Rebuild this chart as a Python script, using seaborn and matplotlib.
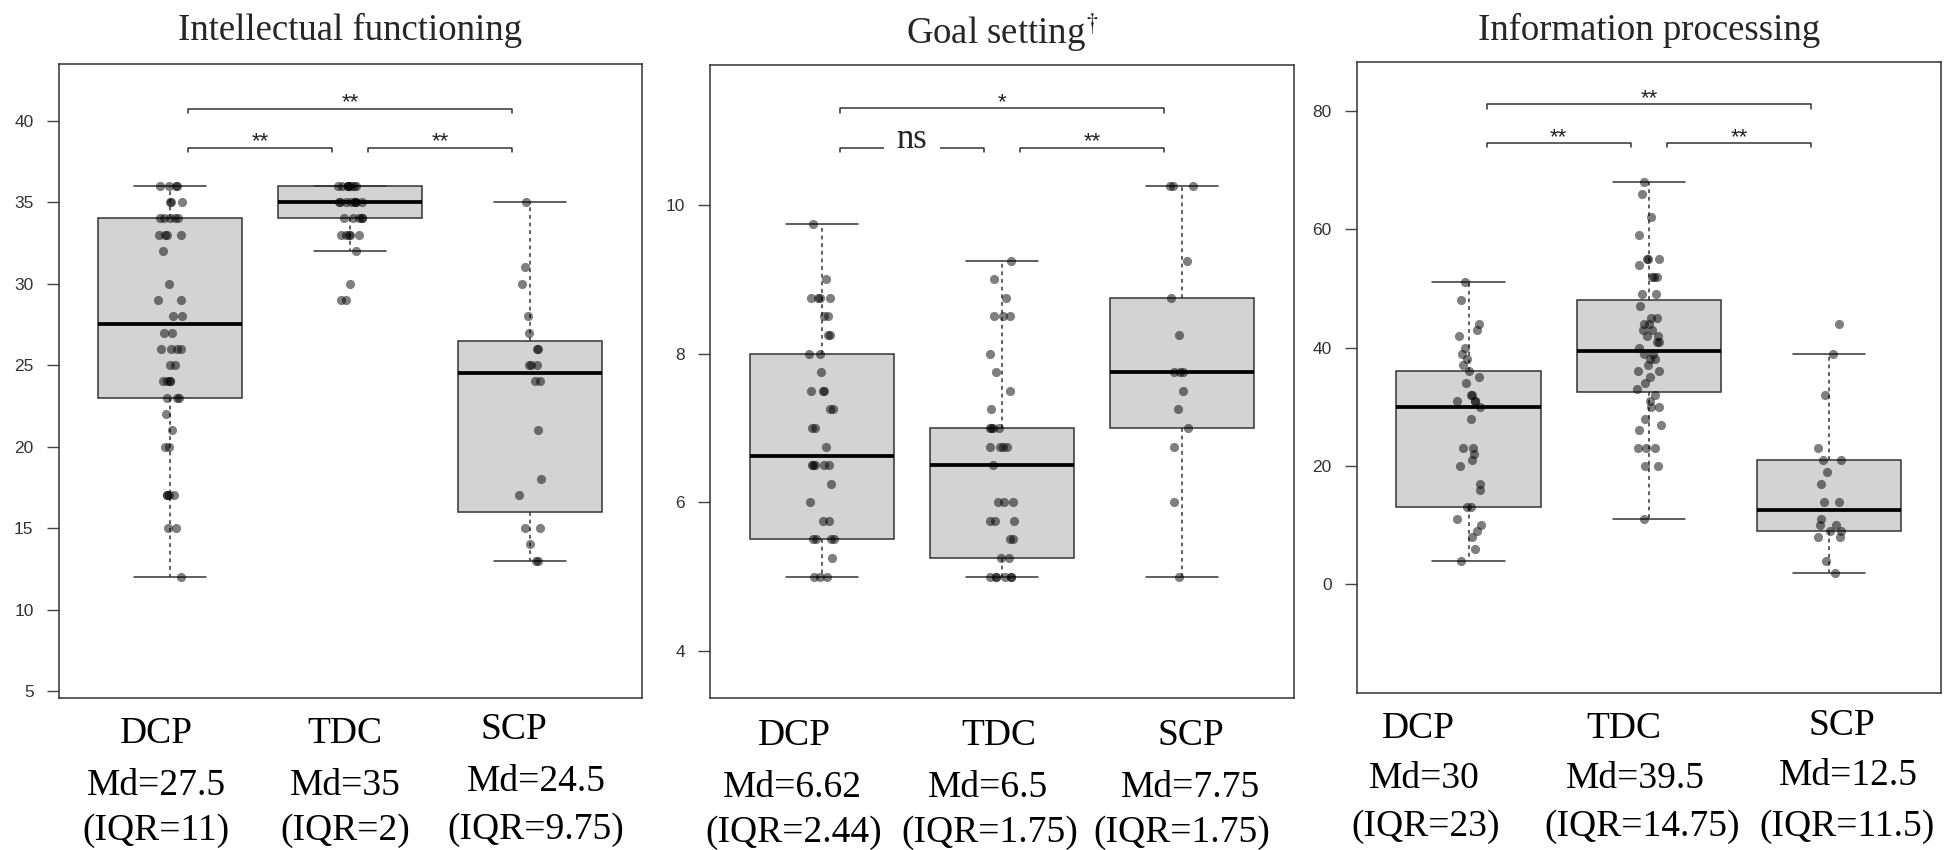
import numpy as np
import pandas as pd
import matplotlib
matplotlib.use("Agg")
import matplotlib.pyplot as plt
import seaborn as sns

# ---------------- data ----------------
groups = ["DCP", "TDC", "SCP"]
titles = ["Intellectual functioning", r"Goal setting$^{\dagger}$", "Information processing"]

# Intellectual functioning: individual scores
if_dcp = [36, 36, 36, 36, 35, 35, 35, 34, 34, 34, 34, 34, 33, 33, 33, 33, 32, 30, 29, 29,
          28, 28, 27, 27, 26, 26, 26, 26, 25, 25, 24, 24, 24, 24, 23, 23, 23, 22, 21, 20,
          20, 17, 17, 17, 17, 15, 15, 12]
if_tdc = [36, 36, 36, 36, 36, 36, 36, 36, 35, 35, 35, 35, 35, 35, 35, 35, 34, 34, 34, 34,
          34, 33, 33, 33, 33, 33, 32, 30, 29, 29]
if_scp = [35, 31, 30, 28, 27, 26, 26, 25, 25, 25, 24, 24, 21, 18, 17, 15, 15, 14, 13, 13]
if_whislo = [12, 32, 13]
if_q1 = [23, 34, 16]
if_med = [27.5, 35, 24.5]
if_q3 = [34, 36, 26.5]
if_whishi = [36, 36, 35]
if_md_lbl = ["27.5", "35", "24.5"]
if_iqr_lbl = ["11", "2", "9.75"]
if_sig = ["**", "**", "**"]          # DCP-TDC, TDC-SCP, DCP-SCP
if_yticks = [5, 10, 15, 20, 25, 30, 35, 40]

# Goal setting
gs_dcp = [9.75, 9.0, 8.75, 8.75, 8.75, 8.75, 8.5, 8.5, 8.25, 8.25, 8.0, 8.0, 7.75, 7.5, 7.5,
          7.5, 7.25, 7.25, 7.0, 7.0, 6.75, 6.5, 6.5, 6.5, 6.5, 6.5, 6.25, 6.0, 5.75, 5.75,
          5.5, 5.5, 5.5, 5.5, 5.25, 5.0, 5.0, 5.0]
gs_tdc = [9.25, 9.0, 8.75, 8.5, 8.5, 8.5, 8.0, 7.75, 7.5, 7.25, 7.0, 7.0, 7.0, 7.0, 6.75,
          6.75, 6.75, 6.75, 6.5, 6.0, 6.0, 6.0, 5.75, 5.75, 5.75, 5.5, 5.5, 5.25, 5.25,
          5.0, 5.0, 5.0, 5.0, 5.0, 5.0]
gs_scp = [10.25, 10.25, 10.25, 9.25, 8.75, 8.25, 7.75, 7.75, 7.75, 7.5, 7.25, 7.0, 6.75, 6.0, 5.0]
gs_whislo = [5, 5, 5]
gs_q1 = [5.5, 5.25, 7.0]
gs_med = [6.62, 6.5, 7.75]
gs_q3 = [8.0, 7.0, 8.75]
gs_whishi = [9.75, 9.25, 10.25]
gs_md_lbl = ["6.62", "6.5", "7.75"]
gs_iqr_lbl = ["2.44", "1.75", "1.75"]
gs_sig = ["ns", "**", "*"]
gs_yticks = [4, 6, 8, 10]

# Information processing
ip_dcp = [51, 48, 44, 43, 42, 40, 39, 38, 37, 36, 35, 34, 32, 32, 31, 31, 31, 30, 28, 23,
          23, 22, 21, 20, 17, 16, 13, 13, 11, 10, 9, 8, 6, 4]
ip_tdc = [68, 66, 62, 59, 55, 55, 55, 54, 52, 52, 52, 49, 49, 47, 45, 45, 44, 44, 43, 43,
          42, 42, 41, 41, 40, 39, 39, 38, 38, 37, 36, 36, 35, 34, 33, 32, 31, 30, 30, 28,
          27, 26, 23, 23, 23, 20, 20, 11]
ip_scp = [44, 39, 32, 23, 21, 21, 19, 17, 14, 14, 11, 10, 10, 9, 9, 8, 8, 4, 2]
ip_whislo = [4, 11, 2]
ip_q1 = [13, 32.5, 9]
ip_med = [30, 39.5, 12.5]
ip_q3 = [36, 48, 21]
ip_whishi = [51, 68, 39]
ip_md_lbl = ["30", "39.5", "12.5"]
ip_iqr_lbl = ["23", "14.75", "11.5"]
ip_sig = ["**", "**", "**"]
ip_yticks = [0, 20, 40, 60, 80]

panels = [
    dict(title=titles[0], pts=[if_dcp, if_tdc, if_scp],
         stats=(if_whislo, if_q1, if_med, if_q3, if_whishi),
         md=if_md_lbl, iqr=if_iqr_lbl, sig=if_sig, yticks=if_yticks),
    dict(title=titles[1], pts=[gs_dcp, gs_tdc, gs_scp],
         stats=(gs_whislo, gs_q1, gs_med, gs_q3, gs_whishi),
         md=gs_md_lbl, iqr=gs_iqr_lbl, sig=gs_sig, yticks=gs_yticks),
    dict(title=titles[2], pts=[ip_dcp, ip_tdc, ip_scp],
         stats=(ip_whislo, ip_q1, ip_med, ip_q3, ip_whishi),
         md=ip_md_lbl, iqr=ip_iqr_lbl, sig=ip_sig, yticks=ip_yticks),
]

# ---------------- layout (pixels of a 1948x850 canvas) ----------------
W, H = 1948, 850
AX_PX = [(58.7, 64.0, 642.0, 698.3), (710.0, 65.3, 1294.0, 697.7), (1356.7, 61.7, 1941.0, 693.3)]
YLIMS = [(4.55, 43.48), (3.37, 11.88), (-18.4, 88.3)]
BRACKET_Y = [(38.35, 40.73), (10.77, 11.30), (74.5, 81.07)]   # lower pair, upper
TITLE_PAD = [17.0, 15.6, 15.3]
# label centres (x px for the three rows) and baselines (y px for three rows)
LBL_X = [[(156, 156, 156), (345, 345, 345), (514, 536, 536)],
         [(794, 792, 794), (999, 988, 990), (1191, 1191, 1182)],
         [(1418, 1424, 1426), (1624, 1635, 1642), (1842, 1848, 1847)]]
LBL_Y = [[(743, 795, 840), (743, 795, 840), (739, 791, 839)],
         [(745, 797, 842), (745, 797, 842), (745, 797, 842)],
         [(738, 788, 836), (738, 788, 836), (735, 785, 836)]]

sns.set_style("white")
plt.rcParams["font.family"] = ["Liberation Serif", "DejaVu Serif"]
plt.rcParams["mathtext.fontset"] = "stix"

fig = plt.figure(figsize=(W / 100, H / 100), dpi=100)
np.random.seed(7)

SERIF = ["Liberation Serif", "DejaVu Serif"]
SANS = ["Liberation Sans", "DejaVu Sans"]
EDGE = "#333333"

for i, p in enumerate(panels):
    x0, y0, x1, y1 = AX_PX[i]
    ax = fig.add_axes([x0 / W, 1 - y1 / H, (x1 - x0) / W, (y1 - y0) / H])

    df = pd.DataFrame({
        "group": sum([[g] * len(v) for g, v in zip(groups, p["pts"])], []),
        "value": sum([list(v) for v in p["pts"]], []),
    })

    wl, q1, md, q3, wh = p["stats"]
    stats = [dict(whislo=wl[k], q1=q1[k], med=md[k], q3=q3[k], whishi=wh[k], fliers=[])
             for k in range(3)]
    ax.bxp(stats, positions=[0, 1, 2], widths=0.8, patch_artist=True, showfliers=False,
           boxprops=dict(facecolor="#d3d3d3", edgecolor=EDGE, linewidth=1.1),
           medianprops=dict(color="black", linewidth=2.7, solid_capstyle="butt"),
           whiskerprops=dict(color=EDGE, linewidth=1.1, linestyle=(0, (2.5, 2.5))),
           capprops=dict(color=EDGE, linewidth=1.1),
           capwidths=0.4, manage_ticks=False, zorder=2)

    sns.stripplot(data=df, x="group", y="value", order=groups, jitter=0.07,
                  color="black", alpha=0.5, size=6.6, linewidth=0, ax=ax, zorder=3)

    ax.set_xlim(-0.62, 2.62)
    ax.set_ylim(*YLIMS[i])
    ax.set_xticks([])
    ax.set_yticks(p["yticks"])
    ax.set_yticklabels([str(t) for t in p["yticks"]], fontfamily=SANS)
    ax.set_xlabel("")
    ax.set_ylabel("")
    ax.tick_params(axis="y", left=True, length=8.8, width=1.0, color="#444444",
                   pad=9.3, labelsize=12.5, labelcolor="#333333")
    for s in ax.spines.values():
        s.set_visible(True)
        s.set_color(EDGE)
        s.set_linewidth(1.1)

    ax.set_title(p["title"], fontsize=26.5, fontfamily=SERIF, pad=TITLE_PAD[i])

    # significance brackets
    lo, hi = BRACKET_Y[i]
    yr = YLIMS[i][1] - YLIMS[i][0]
    tip = 0.0065 * yr
    spans = [(0.1, 0.9, lo), (1.1, 1.9, lo), (0.1, 1.9, hi)]
    for (a, b, yy), lab in zip(spans, p["sig"]):
        ax.plot([a, a, b, b], [yy - tip, yy, yy, yy - tip], color=EDGE, lw=1.1, zorder=4)
        if lab == "ns":
            ax.text((a + b) / 2, yy, lab, ha="center", va="baseline", fontsize=25,
                    fontfamily=SERIF, zorder=5,
                    bbox=dict(facecolor="white", edgecolor="none", pad=9))
        else:
            ax.annotate(lab, xy=((a + b) / 2, yy), xytext=(0, 0.5),
                        textcoords="offset points", ha="center", va="baseline",
                        fontsize=16, fontfamily=SANS, color="#222222", zorder=5)

    # group labels under each panel
    for k, g in enumerate(groups):
        rows = [g, "Md=" + p["md"][k], "(IQR=" + p["iqr"][k] + ")"]
        for r, txt in enumerate(rows):
            fig.text(LBL_X[i][k][r] / W, 1 - LBL_Y[i][k][r] / H, txt, ha="center",
                     va="baseline", fontsize=27, fontfamily=SERIF, color="black")

fig.savefig("out.png", dpi=100, facecolor="white")
